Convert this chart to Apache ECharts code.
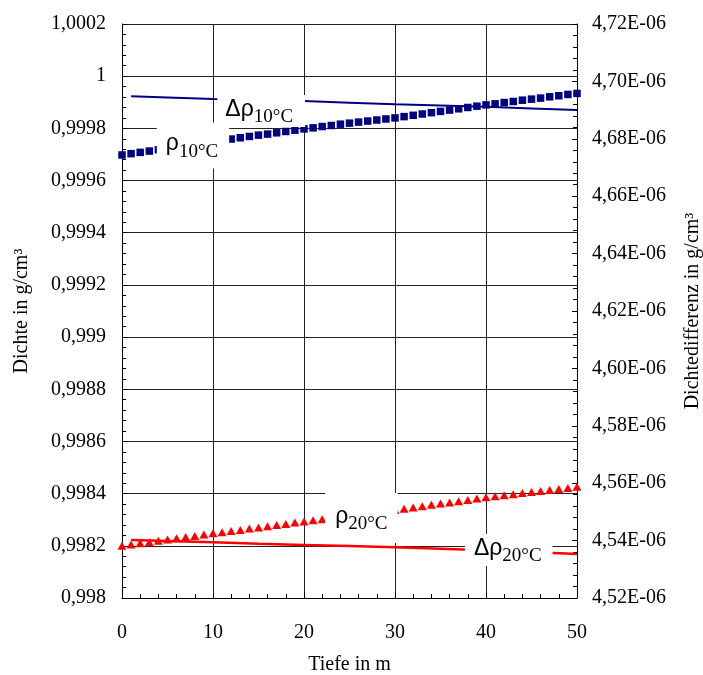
<!DOCTYPE html>
<html>
<head>
<meta charset="utf-8">
<script src="https://cdn.jsdelivr.net/npm/echarts@6/dist/echarts.min.js"></script>
<style>
html,body{margin:0;padding:0;background:#fff;}
#c{width:703px;height:675px;}
</style>
</head>
<body>
<div id="c"></div>
<script>
// Depth (m) for the density series
const depth = [0,1,2,3,4,5,6,7,8,9,10,11,12,13,14,15,16,17,18,19,20,21,22,23,24,25,26,27,28,29,30,31,32,33,34,35,36,37,38,39,40,41,42,43,44,45,46,47,48,49,50];
// Density at 10 °C (g/cm³)
const rho10 = [0.999698,0.999703,0.999708,0.999713,0.999718,0.999723,0.999728,0.999733,0.999738,0.999743,
  0.999748,0.999753,0.999759,0.999764,0.999769,0.999774,0.999778,0.999783,0.999788,0.999793,
  0.999798,0.999802,0.999807,0.999811,0.999816,0.999820,0.999824,0.999828,0.999832,0.999836,
  0.999840,0.999845,0.999850,0.999855,0.999860,0.999865,0.999870,0.999875,0.999880,0.999885,
  0.999890,0.999894,0.999899,0.999903,0.999908,0.999912,0.999916,0.999921,0.999925,0.999930,0.999934];
// Density at 20 °C (g/cm³)
const rho20 = [0.998200,0.998205,0.998210,0.998214,0.998219,0.998224,0.998229,0.998234,0.998238,0.998243,
  0.998248,0.998252,0.998257,0.998261,0.998266,0.998270,0.998275,0.998280,0.998284,0.998289,
  0.998293,0.998298,0.998302,0.998306,0.998311,0.998315,0.998320,0.998324,0.998328,0.998333,
  0.998337,0.998342,0.998347,0.998352,0.998357,0.998362,0.998366,0.998371,0.998376,0.998381,
  0.998386,0.998390,0.998394,0.998398,0.998402,0.998406,0.998410,0.998414,0.998418,0.998422,0.998426];
// Depth for density differences
const depthDiff = [1,5,10,15,20,25,30,35,40,45,50];
// Density differences in units of 1E-06 g/cm³
const dRho10 = [4.6948,4.6944,4.6939,4.6935,4.6932,4.6926,4.6920,4.6916,4.6912,4.6906,4.6900];
const dRho20 = [4.5402,4.5399,4.5394,4.5389,4.5385,4.5381,4.5377,4.5372,4.5366,4.5360,4.5353];
// Annotation labels (anchor in depth / left-axis units)
const labelText = ['{d|Δρ}{s|10°C}', '{d|ρ}{s|10°C}', '{d|ρ}{s|20°C}', '{d|Δρ}{s|20°C}'];
const labelDepth = [15.3, 7.8, 26.3, 42.5];
const labelDensity = [0.999867, 0.999734, 0.998307, 0.998184];
// Axis settings
const xTicks = {min: 0, max: 50, interval: 10};
const leftTicks = {min: 0.998, max: 1.0002, interval: 0.0002};
const rightTicks = {min: 4.52, max: 4.72, interval: 0.02};

const chart = echarts.init(document.getElementById('c'));
const serif = 'Liberation Serif';
const tickFont = {fontFamily: serif, fontSize: 20, color: '#000'};
const gridLine = {show: true, lineStyle: {color: '#222', width: 1}};

const labelPads = [[3,12,3,8],[10,11,10,9],[12,10,12,10],[3,11,3,9]];

chart.setOption({
  animation: false,
  backgroundColor: '#fff',
  grid: {left: 122, right: 126, top: 24, bottom: 77, containLabel: false, outerBoundsMode: 'none'},
  xAxis: {
    type: 'value', min: xTicks.min, max: xTicks.max, interval: xTicks.interval,
    name: 'Tiefe in m', nameLocation: 'middle', nameGap: 57,
    nameTextStyle: {fontFamily: serif, fontSize: 20, color: '#000'},
    axisLine: {show: true, lineStyle: {color: '#000', width: 1}},
    axisTick: {show: true, inside: true, length: 5, lineStyle: {color: '#000'}},
    minorTick: {show: true, splitNumber: 5, length: 4, lineStyle: {color: '#000'}},
    axisLabel: Object.assign({margin: 25}, tickFont),
    splitLine: gridLine
  },
  yAxis: [{
    type: 'value', min: leftTicks.min, max: leftTicks.max, interval: leftTicks.interval,
    name: 'Dichte in g/cm³', nameLocation: 'middle', nameGap: 90,
    nameTextStyle: {fontFamily: serif, fontSize: 20, color: '#000'},
    axisLine: {show: true, lineStyle: {color: '#000', width: 1}},
    axisTick: {show: true, inside: true, length: 5, lineStyle: {color: '#000'}},
    minorTick: {show: true, splitNumber: 5, length: 4, lineStyle: {color: '#000'}},
    axisLabel: Object.assign({margin: 16, formatter: v => parseFloat(v.toFixed(4)).toString().replace('.', ',')}, tickFont),
    splitLine: gridLine
  }, {
    type: 'value', position: 'right', min: rightTicks.min, max: rightTicks.max, interval: rightTicks.interval,
    name: 'Dichtedifferenz in g/cm³', nameLocation: 'middle', nameGap: 106, nameRotate: 90,
    nameTextStyle: {fontFamily: serif, fontSize: 20, color: '#000'},
    axisLine: {show: true, lineStyle: {color: '#000', width: 1}},
    axisTick: {show: true, inside: true, length: 5, lineStyle: {color: '#000'}},
    minorTick: {show: true, splitNumber: 5, length: 4, lineStyle: {color: '#000'}},
    axisLabel: Object.assign({margin: 15, formatter: v => v.toFixed(2).replace('.', ',') + 'E-06'}, tickFont),
    splitLine: {show: false}
  }],
  series: [{
    name: 'rho10', type: 'scatter', xAxisIndex: 0, yAxisIndex: 0, z: 3,
    symbol: 'rect', symbolSize: 7.5, itemStyle: {color: '#000080', opacity: 1},
    emphasis: {disabled: true},
    data: depth.map((d, i) => [d, rho10[i]])
  }, {
    name: 'rho20', type: 'scatter', xAxisIndex: 0, yAxisIndex: 0, z: 3,
    symbol: 'triangle', symbolSize: [9, 8], itemStyle: {color: '#ff0000', opacity: 1},
    emphasis: {disabled: true},
    data: depth.map((d, i) => [d, rho20[i]])
  }, {
    name: 'dRho10', type: 'line', xAxisIndex: 0, yAxisIndex: 1, z: 4,
    showSymbol: false, symbol: 'none', lineStyle: {color: '#000080', width: 2},
    data: depthDiff.map((d, i) => [d, dRho10[i]])
  }, {
    name: 'dRho20', type: 'line', xAxisIndex: 0, yAxisIndex: 1, z: 4,
    showSymbol: false, symbol: 'none', lineStyle: {color: '#ff0000', width: 2.5},
    data: depthDiff.map((d, i) => [d, dRho20[i]])
  }, {
    name: 'labels', type: 'scatter', xAxisIndex: 0, yAxisIndex: 0, z: 20,
    symbolSize: 0, silent: true, itemStyle: {opacity: 1},
    emphasis: {disabled: true},
    data: labelText.map((t, i) => ({
      value: [labelDepth[i], labelDensity[i]],
      label: {
        show: true, position: 'inside', formatter: t,
        backgroundColor: '#fff', padding: labelPads[i],
        rich: {
          d: {fontFamily: 'Liberation Sans', fontSize: 23, color: '#000', lineHeight: 26, verticalAlign: 'top'},
          s: {fontFamily: serif, fontSize: 19, color: '#000', lineHeight: 18, padding: [12, 0, 0, 0]}
        }
      }
    }))
  }]
});
</script>
</body>
</html>
